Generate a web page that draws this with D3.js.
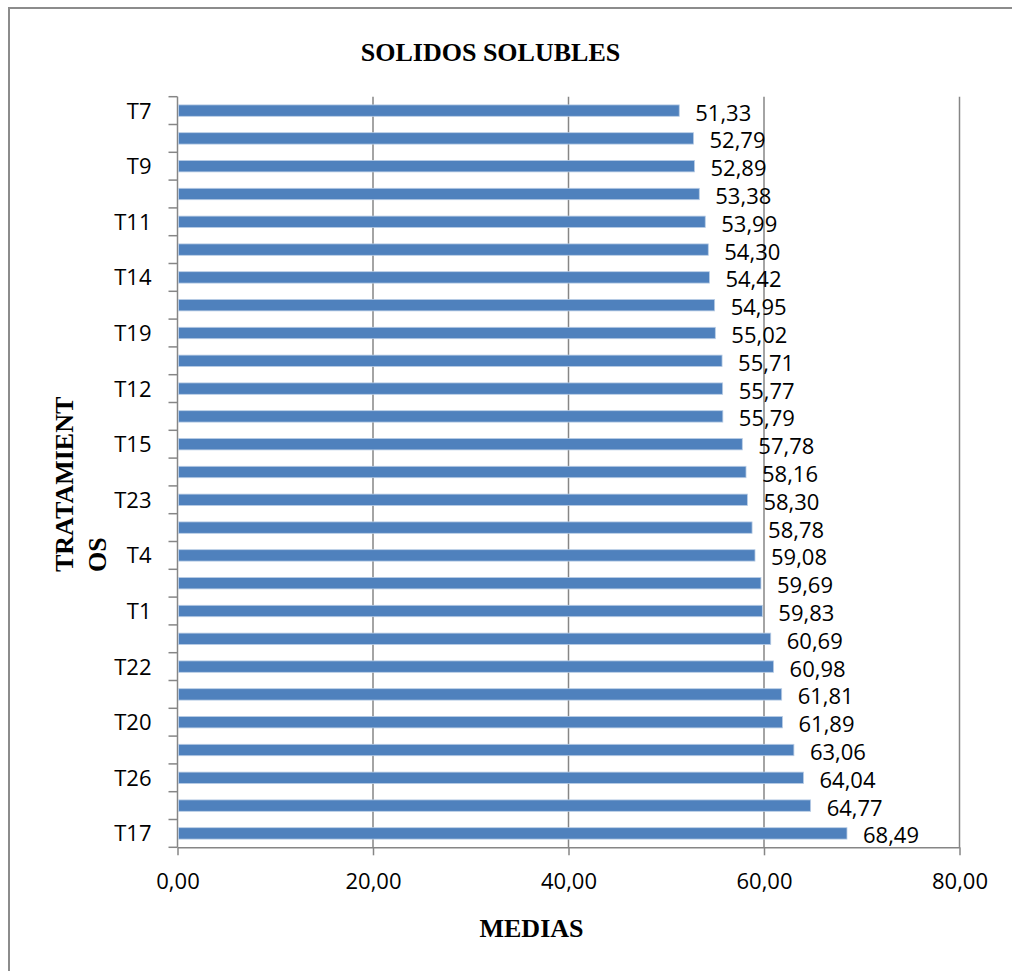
<!DOCTYPE html>
<html>
<head>
<meta charset="utf-8">
<script src="https://cdn.jsdelivr.net/npm/d3@7"></script>
<style>
  html, body { margin: 0; padding: 0; background: #fff; }
  svg { display: block; }
</style>
</head>
<body>
<svg id="chart" width="1012" height="971"></svg>
<script>
// Treatments, top to bottom; only every other one carries a visible label.
const categories = [
  "T7", "T2", "T9", "T3", "T11", "T5", "T14", "T6", "T19", "T8",
  "T12", "T10", "T15", "T13", "T23", "T16", "T4", "T18", "T1", "T21",
  "T22", "T24", "T20", "T25", "T26", "T27", "T17"
];
// Mean soluble solids per treatment.
const values = [
  51.33, 52.79, 52.89, 53.38, 53.99, 54.30, 54.42, 54.95, 55.02, 55.71,
  55.77, 55.79, 57.78, 58.16, 58.30, 58.78, 59.08, 59.69, 59.83, 60.69,
  60.98, 61.81, 61.89, 63.06, 64.04, 64.77, 68.49
];
const xTicks = [0, 20, 40, 60, 80];
const titleText = "SOLIDOS SOLUBLES";
const xTitle = "MEDIAS";
const yTitleLines = ["TRATAMIENT", "OS"];

const data = categories.map((c, i) => ({ cat: c, val: values[i] }));
const comma = v => d3.format(".2f")(v).replace(".", ",");

const svg = d3.select("#chart");
const W = 1012, H = 971;

// chart frame
svg.append("rect")
  .attr("x", 9).attr("y", 8)
  .attr("width", W + 10).attr("height", H + 10)
  .attr("fill", "#fff")
  .attr("stroke", "#8c8c8c").attr("stroke-width", 2);

const plot = { left: 177.5, right: 959.5, top: 96.7, bottom: 847.3 };

const x = d3.scaleLinear().domain([0, 80]).range([plot.left, plot.right]);
const y = d3.scaleBand().domain(categories)
  .range([plot.top, plot.bottom]).paddingInner(0.59).paddingOuter(0.295);
const yb = d3.scaleBand().domain(categories).range([plot.top, plot.bottom]);

const grey = "#868686";
const labelFont = "'Open Sans', 'Noto Sans', sans-serif";
const serif = "'Liberation Serif', 'DejaVu Serif', serif";

// vertical gridlines
svg.append("g").selectAll("line")
  .data(xTicks.filter(t => t > 0))
  .join("line")
  .attr("x1", d => x(d)).attr("x2", d => x(d))
  .attr("y1", plot.top).attr("y2", plot.bottom)
  .attr("stroke", grey).attr("stroke-width", 1.5);

// x axis
const xAxis = svg.append("g")
  .attr("transform", `translate(0,${plot.bottom})`)
  .call(d3.axisBottom(x).tickValues(xTicks).tickFormat(comma).tickSize(8).tickSizeOuter(0));
xAxis.select(".domain").attr("stroke", grey).attr("stroke-width", 1.5);
xAxis.selectAll(".tick line").attr("stroke", grey).attr("stroke-width", 1.5);
xAxis.selectAll(".tick text")
  .attr("font-family", labelFont).attr("font-size", 22).attr("fill", "#000")
  .attr("y", 0).attr("dy", 0)
  .attr("transform", "translate(0,42)");

// y axis: ticks sit on the band boundaries, labels on alternate bands
const yAxis = svg.append("g")
  .attr("transform", `translate(${plot.left},0)`)
  .call(d3.axisLeft(y).tickSize(0).tickPadding(26)
    .tickFormat((d, i) => (i % 2 === 0 ? d : "")));
yAxis.select(".domain").remove();
yAxis.selectAll(".tick text")
  .attr("font-family", labelFont).attr("font-size", 22).attr("fill", "#000")
  .attr("dy", "0.36em");

const boundaries = categories.map(c => yb(c)).concat([plot.bottom]);
svg.append("g").selectAll("line")
  .data(boundaries)
  .join("line")
  .attr("x1", plot.left - 9).attr("x2", plot.left)
  .attr("y1", d => d).attr("y2", d => d)
  .attr("stroke", grey).attr("stroke-width", 1.5);
svg.append("line")
  .attr("x1", plot.left).attr("x2", plot.left)
  .attr("y1", plot.top).attr("y2", plot.bottom)
  .attr("stroke", grey).attr("stroke-width", 1.5);

// bars
svg.append("g").selectAll("rect")
  .data(data)
  .join("rect")
  .attr("x", x(0) + 1)
  .attr("y", d => y(d.cat))
  .attr("width", d => x(d.val) - x(0) - 1)
  .attr("height", y.bandwidth())
  .attr("fill", "#4f81bd")
  .attr("stroke", "#b9cde5").attr("stroke-width", 0.8);

// value labels
svg.append("g").selectAll("text")
  .data(data)
  .join("text")
  .attr("x", d => x(d.val) + 16)
  .attr("y", d => y(d.cat) + y.bandwidth() / 2 + 2)
  .attr("dy", "0.36em")
  .attr("font-family", labelFont).attr("font-size", 22).attr("fill", "#000")
  .text(d => comma(d.val));

// titles
svg.append("text")
  .attr("x", 490.5).attr("y", 61)
  .attr("text-anchor", "middle")
  .attr("font-family", serif).attr("font-weight", "bold").attr("font-size", 26)
  .text(titleText);

svg.append("text")
  .attr("x", 531.5).attr("y", 937)
  .attr("text-anchor", "middle")
  .attr("font-family", serif).attr("font-weight", "bold").attr("font-size", 26)
  .text(xTitle);

const yt = svg.append("text")
  .attr("transform", "translate(73,572) rotate(-90)")
  .attr("text-anchor", "start")
  .attr("font-family", serif).attr("font-weight", "bold").attr("font-size", 26);
yTitleLines.forEach((line, i) => {
  yt.append("tspan").attr("x", 0).attr("y", i * 33).text(line);
});
</script>
</body>
</html>
